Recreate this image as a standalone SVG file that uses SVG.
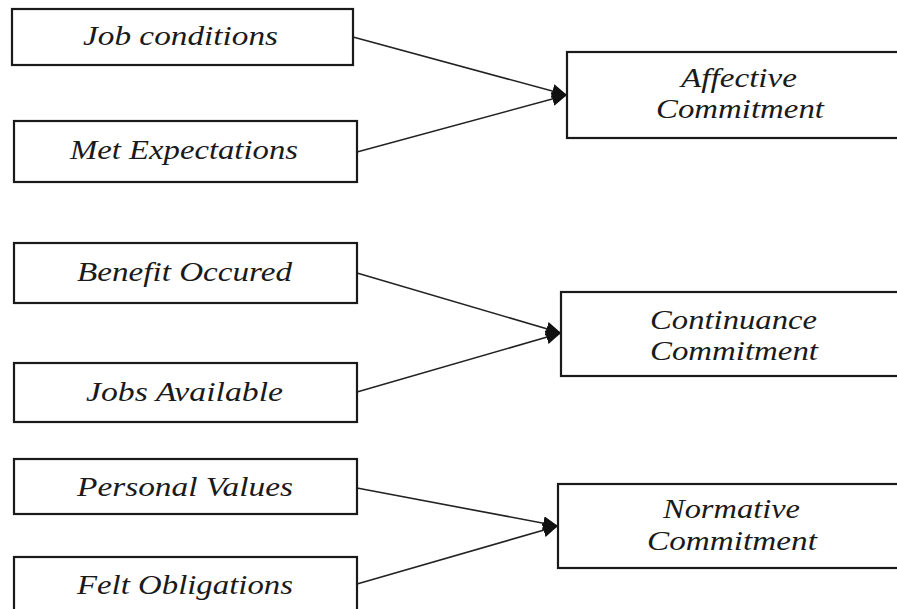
<svg xmlns="http://www.w3.org/2000/svg" width="897" height="609" viewBox="0 0 897 609">
<defs>
<style>
.box{fill:#fff;stroke:#1a1a1a;stroke-width:2.2}
.t{font-family:"Liberation Serif","Times New Roman",serif;font-style:italic;font-size:27px;fill:#1a1a1a}
.edge{stroke:#222;stroke-width:1.6;fill:none}
</style>
<marker id="arr" markerUnits="userSpaceOnUse" markerWidth="16" markerHeight="14" refX="15" refY="7" orient="auto">
<path d="M0,0 L15,7 L0,14 z" fill="#111"/>
</marker>
</defs>
<rect width="897" height="609" fill="#fff"/>
<g id="connectors">
<line class="edge" x1="353" y1="37" x2="567" y2="95" marker-end="url(#arr)"/>
<line class="edge" x1="357" y1="152" x2="567" y2="95" marker-end="url(#arr)"/>
<line class="edge" x1="357" y1="273" x2="561" y2="333" marker-end="url(#arr)"/>
<line class="edge" x1="357" y1="392" x2="561" y2="333" marker-end="url(#arr)"/>
<line class="edge" x1="357" y1="488" x2="558" y2="526" marker-end="url(#arr)"/>
<line class="edge" x1="357" y1="584" x2="558" y2="526" marker-end="url(#arr)"/>
</g>
<g id="job-conditions">
<rect class="box" x="12" y="9" width="341" height="56"/>
<text class="t" x="83" y="45" textLength="195" lengthAdjust="spacingAndGlyphs">Job conditions</text>
</g>
<g id="met-expectations">
<rect class="box" x="14" y="121" width="343" height="61"/>
<text class="t" x="70" y="159" textLength="228" lengthAdjust="spacingAndGlyphs">Met Expectations</text>
</g>
<g id="affective-commitment">
<rect class="box" x="567" y="52" width="335" height="86"/>
<text class="t" x="681" y="87" textLength="116" lengthAdjust="spacingAndGlyphs">Affective</text>
<text class="t" x="656" y="118" textLength="168" lengthAdjust="spacingAndGlyphs">Commitment</text>
</g>
<g id="benefit-occured">
<rect class="box" x="14" y="243" width="343" height="60"/>
<text class="t" x="77" y="281" textLength="215" lengthAdjust="spacingAndGlyphs">Benefit Occured</text>
</g>
<g id="jobs-available">
<rect class="box" x="14" y="363" width="343" height="59"/>
<text class="t" x="86" y="401" textLength="197" lengthAdjust="spacingAndGlyphs">Jobs Available</text>
</g>
<g id="continuance-commitment">
<rect class="box" x="561" y="292" width="341" height="84"/>
<text class="t" x="650" y="329" textLength="167" lengthAdjust="spacingAndGlyphs">Continuance</text>
<text class="t" x="650" y="360" textLength="168" lengthAdjust="spacingAndGlyphs">Commitment</text>
</g>
<g id="personal-values">
<rect class="box" x="14" y="459" width="343" height="55"/>
<text class="t" x="77" y="496" textLength="216" lengthAdjust="spacingAndGlyphs">Personal Values</text>
</g>
<g id="felt-obligations">
<rect class="box" x="14" y="557" width="343" height="60"/>
<text class="t" x="77" y="594" textLength="216" lengthAdjust="spacingAndGlyphs">Felt Obligations</text>
</g>
<g id="normative-commitment">
<rect class="box" x="558" y="484" width="344" height="84"/>
<text class="t" x="663" y="518" textLength="137" lengthAdjust="spacingAndGlyphs">Normative</text>
<text class="t" x="647" y="550" textLength="170" lengthAdjust="spacingAndGlyphs">Commitment</text>
</g>
</svg>
